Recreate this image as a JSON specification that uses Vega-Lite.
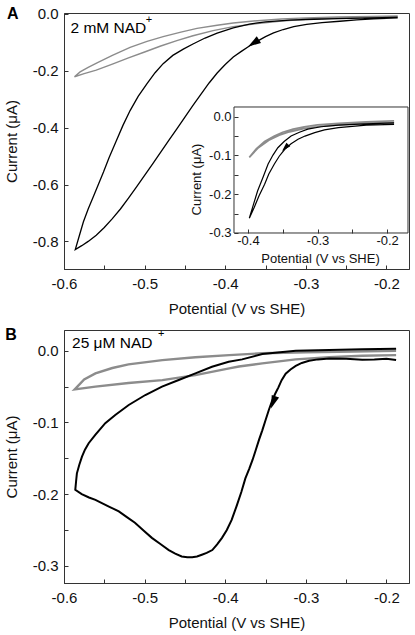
{
  "$schema": "https://vega.github.io/schema/vega-lite/v6.json",
  "background": "white",
  "padding": {"left": 3, "top": 5, "right": 5, "bottom": 4},
  "spacing": 9,
  "datasets": {
    "a_scan": [
      {"V": -0.186, "I": -0.015}, {"V": -0.2, "I": -0.016}, {"V": -0.216, "I": -0.018}, {"V": -0.237, "I": -0.021},
      {"V": -0.258, "I": -0.026}, {"V": -0.28, "I": -0.031}, {"V": -0.299, "I": -0.037}, {"V": -0.315, "I": -0.045},
      {"V": -0.328, "I": -0.055}, {"V": -0.34, "I": -0.067}, {"V": -0.35, "I": -0.08}, {"V": -0.36, "I": -0.096},
      {"V": -0.37, "I": -0.113}, {"V": -0.38, "I": -0.132}, {"V": -0.39, "I": -0.152}, {"V": -0.4, "I": -0.178},
      {"V": -0.41, "I": -0.208}, {"V": -0.42, "I": -0.243}, {"V": -0.43, "I": -0.282}, {"V": -0.44, "I": -0.322},
      {"V": -0.45, "I": -0.363}, {"V": -0.46, "I": -0.404}, {"V": -0.47, "I": -0.445}, {"V": -0.48, "I": -0.486},
      {"V": -0.49, "I": -0.527}, {"V": -0.5, "I": -0.568}, {"V": -0.51, "I": -0.608}, {"V": -0.52, "I": -0.648},
      {"V": -0.53, "I": -0.686}, {"V": -0.54, "I": -0.72}, {"V": -0.55, "I": -0.751}, {"V": -0.56, "I": -0.778},
      {"V": -0.57, "I": -0.8}, {"V": -0.578, "I": -0.815}, {"V": -0.586, "I": -0.829},
      {"V": -0.581, "I": -0.78}, {"V": -0.576, "I": -0.732}, {"V": -0.57, "I": -0.686}, {"V": -0.563, "I": -0.639},
      {"V": -0.557, "I": -0.597}, {"V": -0.551, "I": -0.556}, {"V": -0.544, "I": -0.505}, {"V": -0.536, "I": -0.452},
      {"V": -0.527, "I": -0.393}, {"V": -0.518, "I": -0.34}, {"V": -0.508, "I": -0.29}, {"V": -0.497, "I": -0.245},
      {"V": -0.487, "I": -0.207}, {"V": -0.477, "I": -0.175}, {"V": -0.465, "I": -0.146}, {"V": -0.452, "I": -0.124},
      {"V": -0.44, "I": -0.106}, {"V": -0.425, "I": -0.085}, {"V": -0.41, "I": -0.068}, {"V": -0.39, "I": -0.049},
      {"V": -0.37, "I": -0.036}, {"V": -0.35, "I": -0.028}, {"V": -0.32, "I": -0.022}, {"V": -0.29, "I": -0.019},
      {"V": -0.26, "I": -0.017}, {"V": -0.23, "I": -0.015}, {"V": -0.205, "I": -0.013}, {"V": -0.186, "I": -0.012}
    ],
    "a_blank": [
      {"V": -0.186, "I": -0.01}, {"V": -0.22, "I": -0.012}, {"V": -0.26, "I": -0.015}, {"V": -0.3, "I": -0.019},
      {"V": -0.33, "I": -0.025}, {"V": -0.36, "I": -0.034}, {"V": -0.39, "I": -0.045}, {"V": -0.415, "I": -0.059},
      {"V": -0.44, "I": -0.077}, {"V": -0.46, "I": -0.094}, {"V": -0.48, "I": -0.113}, {"V": -0.5, "I": -0.134},
      {"V": -0.52, "I": -0.155}, {"V": -0.54, "I": -0.177}, {"V": -0.56, "I": -0.198}, {"V": -0.575, "I": -0.21},
      {"V": -0.587, "I": -0.221},
      {"V": -0.58, "I": -0.204}, {"V": -0.57, "I": -0.188}, {"V": -0.559, "I": -0.172}, {"V": -0.54, "I": -0.146},
      {"V": -0.518, "I": -0.118}, {"V": -0.497, "I": -0.097}, {"V": -0.477, "I": -0.08}, {"V": -0.455, "I": -0.064},
      {"V": -0.435, "I": -0.051}, {"V": -0.41, "I": -0.04}, {"V": -0.39, "I": -0.032}, {"V": -0.36, "I": -0.024},
      {"V": -0.33, "I": -0.018}, {"V": -0.3, "I": -0.014}, {"V": -0.26, "I": -0.011}, {"V": -0.22, "I": -0.009},
      {"V": -0.186, "I": -0.007}
    ],
    "in_scan": [
      {"V": -0.19, "I": -0.02}, {"V": -0.23, "I": -0.022}, {"V": -0.27, "I": -0.028}, {"V": -0.29, "I": -0.034},
      {"V": -0.304, "I": -0.041}, {"V": -0.318, "I": -0.05}, {"V": -0.328, "I": -0.058}, {"V": -0.338, "I": -0.07},
      {"V": -0.347, "I": -0.084}, {"V": -0.355, "I": -0.102}, {"V": -0.362, "I": -0.122}, {"V": -0.37, "I": -0.148},
      {"V": -0.376, "I": -0.174}, {"V": -0.384, "I": -0.204}, {"V": -0.391, "I": -0.234}, {"V": -0.398, "I": -0.262},
      {"V": -0.392, "I": -0.226}, {"V": -0.386, "I": -0.191}, {"V": -0.378, "I": -0.155}, {"V": -0.371, "I": -0.122},
      {"V": -0.364, "I": -0.099}, {"V": -0.357, "I": -0.08}, {"V": -0.348, "I": -0.064}, {"V": -0.338, "I": -0.05},
      {"V": -0.326, "I": -0.04}, {"V": -0.314, "I": -0.032}, {"V": -0.295, "I": -0.026}, {"V": -0.27, "I": -0.022},
      {"V": -0.24, "I": -0.019}, {"V": -0.19, "I": -0.016}
    ],
    "in_blank": [
      {"V": -0.19, "I": -0.015}, {"V": -0.23, "I": -0.017}, {"V": -0.27, "I": -0.021}, {"V": -0.3, "I": -0.026},
      {"V": -0.32, "I": -0.031}, {"V": -0.34, "I": -0.039}, {"V": -0.355, "I": -0.048}, {"V": -0.37, "I": -0.061},
      {"V": -0.385, "I": -0.08}, {"V": -0.398, "I": -0.105},
      {"V": -0.388, "I": -0.083}, {"V": -0.376, "I": -0.064}, {"V": -0.362, "I": -0.05}, {"V": -0.35, "I": -0.04},
      {"V": -0.335, "I": -0.032}, {"V": -0.319, "I": -0.026}, {"V": -0.3, "I": -0.021}, {"V": -0.27, "I": -0.017},
      {"V": -0.23, "I": -0.013}, {"V": -0.19, "I": -0.011}
    ],
    "b_scan": [
      {"V": -0.188, "I": -0.013}, {"V": -0.2, "I": -0.011}, {"V": -0.215, "I": -0.012}, {"V": -0.23, "I": -0.0125},
      {"V": -0.25, "I": -0.011}, {"V": -0.271, "I": -0.0106}, {"V": -0.285, "I": -0.012}, {"V": -0.296, "I": -0.014},
      {"V": -0.305, "I": -0.017}, {"V": -0.3125, "I": -0.021}, {"V": -0.319, "I": -0.026}, {"V": -0.325, "I": -0.032},
      {"V": -0.33, "I": -0.041}, {"V": -0.334, "I": -0.051}, {"V": -0.338, "I": -0.06}, {"V": -0.3415, "I": -0.069},
      {"V": -0.346, "I": -0.083}, {"V": -0.35, "I": -0.097}, {"V": -0.354, "I": -0.111}, {"V": -0.358, "I": -0.124},
      {"V": -0.362, "I": -0.138}, {"V": -0.366, "I": -0.152}, {"V": -0.37, "I": -0.164}, {"V": -0.375, "I": -0.178},
      {"V": -0.38, "I": -0.197}, {"V": -0.386, "I": -0.217}, {"V": -0.392, "I": -0.236}, {"V": -0.398, "I": -0.25},
      {"V": -0.404, "I": -0.261}, {"V": -0.41, "I": -0.27}, {"V": -0.416, "I": -0.278}, {"V": -0.423, "I": -0.282},
      {"V": -0.429, "I": -0.2845}, {"V": -0.435, "I": -0.287}, {"V": -0.441, "I": -0.288}, {"V": -0.447, "I": -0.288},
      {"V": -0.454, "I": -0.287}, {"V": -0.462, "I": -0.283}, {"V": -0.47, "I": -0.278}, {"V": -0.48, "I": -0.27},
      {"V": -0.491, "I": -0.261}, {"V": -0.501, "I": -0.251}, {"V": -0.512, "I": -0.24}, {"V": -0.522, "I": -0.232},
      {"V": -0.532, "I": -0.224}, {"V": -0.543, "I": -0.218}, {"V": -0.553, "I": -0.2125}, {"V": -0.561, "I": -0.208},
      {"V": -0.569, "I": -0.2047}, {"V": -0.578, "I": -0.2}, {"V": -0.586, "I": -0.194},
      {"V": -0.585, "I": -0.182}, {"V": -0.584, "I": -0.171}, {"V": -0.581, "I": -0.159}, {"V": -0.5777, "I": -0.1476},
      {"V": -0.574, "I": -0.138}, {"V": -0.5694, "I": -0.129}, {"V": -0.5612, "I": -0.1174}, {"V": -0.5488, "I": -0.101},
      {"V": -0.5364, "I": -0.0896}, {"V": -0.5197, "I": -0.0756}, {"V": -0.4991, "I": -0.0617}, {"V": -0.4784, "I": -0.0501},
      {"V": -0.4577, "I": -0.0408}, {"V": -0.437, "I": -0.0315}, {"V": -0.4164, "I": -0.0223}, {"V": -0.3957, "I": -0.0153},
      {"V": -0.379, "I": -0.012}, {"V": -0.354, "I": -0.0046}, {"V": -0.3125, "I": 0.0}, {"V": -0.271, "I": 0.001},
      {"V": -0.23, "I": 0.002}, {"V": -0.188, "I": 0.003}
    ],
    "b_blank": [
      {"V": -0.188, "I": -0.006}, {"V": -0.23, "I": -0.007}, {"V": -0.271, "I": -0.009}, {"V": -0.3125, "I": -0.012},
      {"V": -0.354, "I": -0.0175}, {"V": -0.383, "I": -0.022}, {"V": -0.395, "I": -0.0245}, {"V": -0.437, "I": -0.034},
      {"V": -0.478, "I": -0.041}, {"V": -0.52, "I": -0.045}, {"V": -0.561, "I": -0.05}, {"V": -0.5867, "I": -0.0538},
      {"V": -0.575, "I": -0.04}, {"V": -0.561, "I": -0.0315}, {"V": -0.54, "I": -0.024}, {"V": -0.52, "I": -0.019},
      {"V": -0.478, "I": -0.013}, {"V": -0.437, "I": -0.009}, {"V": -0.395, "I": -0.006}, {"V": -0.354, "I": -0.0035},
      {"V": -0.3, "I": -0.002}, {"V": -0.24, "I": -0.001}, {"V": -0.188, "I": 0.0}
    ]
  },
  "vconcat": [
    {
      "width": 345,
      "height": 256,
      "resolve": {"scale": {"x": "independent", "y": "independent"}},
      "layer": [
        {
          "layer": [
            {
              "data": {"name": "a_blank"},
              "mark": {"type": "line", "color": "#8c8c8c", "strokeWidth": 1.4},
              "encoding": {
                "x": {"field": "V", "type": "quantitative",
                  "scale": {"domain": [-0.6, -0.172], "nice": false, "zero": false},
                  "axis": {"orient": "bottom", "title": "Potential (V vs SHE)",
                    "values": [-0.6, -0.55, -0.5, -0.45, -0.4, -0.35, -0.3, -0.25, -0.2],
                    "labelExpr": "abs(datum.value*10-round(datum.value*10))<0.01 ? (datum.value<-0.0001?'-':'')+format(abs(datum.value),'.1f') : ''"}},
                "y": {"field": "I", "type": "quantitative",
                  "scale": {"domain": [-0.897, 0.003], "nice": false, "zero": false},
                  "axis": {"orient": "left", "title": "Current (μA)",
                    "values": [0, -0.1, -0.2, -0.3, -0.4, -0.5, -0.6, -0.7, -0.8],
                    "labelExpr": "abs(datum.value*5-round(datum.value*5))<0.01 ? (datum.value<-0.0001?'-':'')+format(abs(datum.value),'.1f') : ''"}},
                "order": {"value": null}
              }
            },
            {
              "data": {"name": "a_scan"},
              "mark": {"type": "line", "color": "#000000", "strokeWidth": 1.3},
              "encoding": {
                "x": {"field": "V", "type": "quantitative"},
                "y": {"field": "I", "type": "quantitative"},
                "order": {"value": null}
              }
            },
            {
              "data": {"values": [{}]},
              "mark": {"type": "point", "shape": "M0,-1L0.6,1L-0.6,1Z", "filled": true, "size": 170, "angle": 237, "color": "#000000", "opacity": 1},
              "encoding": {"x": {"datum": -0.365}, "y": {"datum": -0.103}}
            },
            {
              "data": {"values": [{}]},
              "mark": {"type": "text", "text": "2 mM NAD", "align": "left", "baseline": "middle", "font": "Liberation Sans", "fontSize": 15.5, "color": "#000000"},
              "encoding": {"x": {"datum": -0.592}, "y": {"datum": -0.05}}
            },
            {
              "data": {"values": [{}]},
              "mark": {"type": "text", "text": "+", "align": "left", "baseline": "middle", "font": "Liberation Sans", "fontSize": 11, "color": "#000000"},
              "encoding": {"x": {"datum": -0.4985}, "y": {"datum": -0.021}}
            },
            {
              "data": {"values": [{}]},
              "mark": {"type": "text", "text": "A", "align": "center", "baseline": "middle", "font": "Liberation Sans", "fontSize": 16, "fontWeight": "bold", "color": "#000000"},
              "encoding": {"x": {"datum": -0.6634}, "y": {"datum": -0.001}}
            }
          ]
        },
        {
          "layer": [
            {
              "data": {"name": "in_blank"},
              "mark": {"type": "line", "color": "#8c8c8c", "strokeWidth": 1.7},
              "encoding": {
                "x": {"field": "V", "type": "quantitative",
                  "scale": {"domain": [-0.664253, -0.168563], "nice": false, "zero": false},
                  "axis": {"orient": "bottom", "offset": -36, "domain": false, "title": "Potential (V vs SHE)",
                    "values": [-0.4, -0.35, -0.3, -0.25, -0.2],
                    "labelFontSize": 13, "titleFontSize": 13, "labelPadding": 5,
                    "titleX": 256, "titleY": 25, "titleBaseline": "middle",
                    "labelExpr": "abs(datum.value*10-round(datum.value*10))<0.01 ? (datum.value<-0.0001?'-':'')+format(abs(datum.value),'.1f') : ''"}},
                "y": {"field": "I", "type": "quantitative",
                  "scale": {"domain": [-0.39286, 0.26746], "nice": false, "zero": false},
                  "axis": {"orient": "left", "offset": -170, "domain": false, "title": "Current (μA)",
                    "values": [0, -0.05, -0.1, -0.15, -0.2, -0.25, -0.3],
                    "labelFontSize": 13, "titleFontSize": 13, "labelPadding": 7,
                    "titleX": -38, "titleY": 166, "titleBaseline": "middle",
                    "labelExpr": "abs(datum.value*10-round(datum.value*10))<0.01 ? (datum.value<-0.0001?'-':'')+format(abs(datum.value),'.1f') : ''"}},
                "order": {"value": null}
              }
            },
            {
              "data": {"name": "in_scan"},
              "mark": {"type": "line", "color": "#000000", "strokeWidth": 1.2},
              "encoding": {
                "x": {"field": "V", "type": "quantitative"},
                "y": {"field": "I", "type": "quantitative"},
                "order": {"value": null}
              }
            },
            {
              "data": {"values": [{}]},
              "mark": {"type": "rect", "fill": "transparent", "stroke": "#333333", "strokeWidth": 1},
              "encoding": {"x": {"datum": -0.42}, "x2": {"datum": -0.17}, "y": {"datum": -0.3}, "y2": {"datum": 0.025}}
            },
            {
              "data": {"values": [{}]},
              "mark": {"type": "point", "shape": "M0,-1L0.6,1L-0.6,1Z", "filled": true, "size": 80, "angle": 224, "color": "#000000", "opacity": 1},
              "encoding": {"x": {"datum": -0.3464}, "y": {"datum": -0.08}}
            }
          ]
        }
      ]
    },
    {
      "width": 345,
      "height": 253,
      "layer": [
        {
          "data": {"name": "b_blank"},
          "mark": {"type": "line", "color": "#8c8c8c", "strokeWidth": 2.4},
          "encoding": {
            "x": {"field": "V", "type": "quantitative",
              "scale": {"domain": [-0.6, -0.172], "nice": false, "zero": false},
              "axis": {"orient": "bottom", "title": "Potential (V vs SHE)",
                "values": [-0.6, -0.55, -0.5, -0.45, -0.4, -0.35, -0.3, -0.25, -0.2],
                "labelExpr": "abs(datum.value*10-round(datum.value*10))<0.01 ? (datum.value<-0.0001?'-':'')+format(abs(datum.value),'.1f') : ''"}},
            "y": {"field": "I", "type": "quantitative",
              "scale": {"domain": [-0.324, 0.029], "nice": false, "zero": false},
              "axis": {"orient": "left", "title": "Current (μA)",
                "values": [0, -0.05, -0.1, -0.15, -0.2, -0.25, -0.3],
                "labelExpr": "abs(datum.value*10-round(datum.value*10))<0.01 ? (datum.value<-0.0001?'-':'')+format(abs(datum.value),'.1f') : ''"}},
            "order": {"value": null}
          }
        },
        {
          "data": {"name": "b_scan"},
          "mark": {"type": "line", "color": "#000000", "strokeWidth": 2},
          "encoding": {
            "x": {"field": "V", "type": "quantitative"},
            "y": {"field": "I", "type": "quantitative"},
            "order": {"value": null}
          }
        },
        {
          "data": {"values": [{}]},
          "mark": {"type": "point", "shape": "M0,-1L0.6,1L-0.6,1Z", "filled": true, "size": 170, "angle": 200, "color": "#000000", "opacity": 1},
          "encoding": {"x": {"datum": -0.3405}, "y": {"datum": -0.072}}
        },
        {
          "data": {"values": [{}]},
          "mark": {"type": "text", "text": "25 μM NAD", "align": "left", "baseline": "middle", "font": "Liberation Sans", "fontSize": 15.5, "color": "#000000"},
          "encoding": {"x": {"datum": -0.59}, "y": {"datum": 0.0103}}
        },
        {
          "data": {"values": [{}]},
          "mark": {"type": "text", "text": "+", "align": "left", "baseline": "middle", "font": "Liberation Sans", "fontSize": 11, "color": "#000000"},
          "encoding": {"x": {"datum": -0.4835}, "y": {"datum": 0.0233}}
        },
        {
          "data": {"values": [{}]},
          "mark": {"type": "text", "text": "B", "align": "center", "baseline": "middle", "font": "Liberation Sans", "fontSize": 16, "fontWeight": "bold", "color": "#000000"},
          "encoding": {"x": {"datum": -0.6658}, "y": {"datum": 0.0219}}
        }
      ]
    }
  ],
  "config": {
    "view": {"stroke": "#333333", "strokeWidth": 1},
    "axis": {
      "grid": false, "domainColor": "#333333", "tickColor": "#333333", "tickSize": -4,
      "labelFont": "Liberation Sans", "labelFontSize": 15, "labelColor": "#111111",
      "titleFont": "Liberation Sans", "titleFontSize": 15, "titleFontWeight": "normal", "titleColor": "#111111",
      "labelFlush": false, "labelOverlap": false
    },
    "axisX": {"labelPadding": 11, "titlePadding": 10},
    "axisY": {"labelPadding": 10, "titlePadding": 13}
  }
}
